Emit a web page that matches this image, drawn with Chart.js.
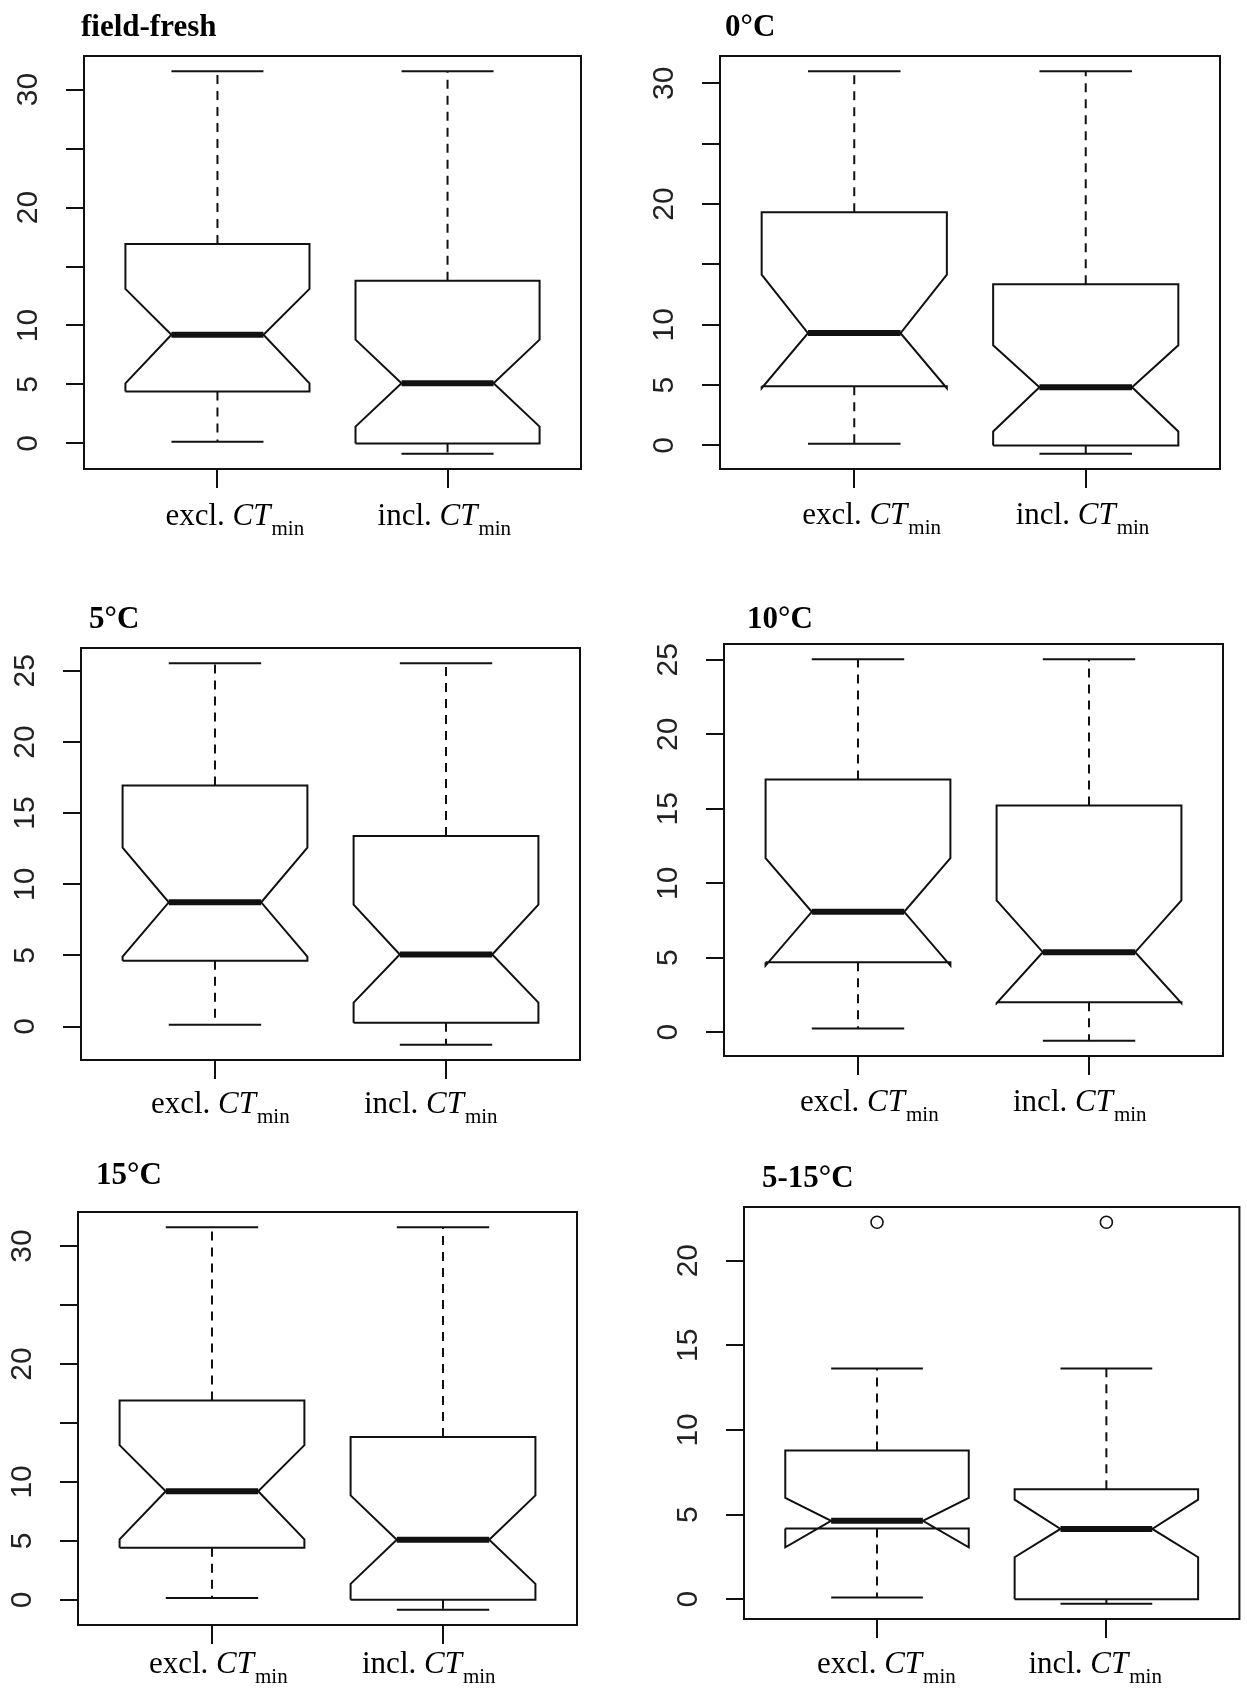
<!DOCTYPE html>
<html>
<head>
<meta charset="utf-8">
<script src="https://cdn.jsdelivr.net/npm/chart.js@4.4.1/dist/chart.umd.min.js"></script>
<style>
  html, body { margin: 0; padding: 0; background: #fff; overflow: hidden; }
  #page { position: relative; width: 1247px; height: 1692px; }
  #page canvas { position: absolute; }
</style>
</head>
<body>
<div id="page"></div>
<script>
// panels, left to right then top to bottom
const panelTitles = ["field-fresh", "0°C", "5°C", "10°C", "15°C", "5-15°C"];
const groupLabels = ["excl.", "incl."];

// each entry: [excl. CTmin, incl. CTmin]
const whiskerLow  = [[0.15, -0.87], [0.15, -0.68], [0.12, -1.28], [0.24, -0.58], [0.15, -0.84], [0.10, -0.27]];
const lowerHinge  = [[4.40, 0.00], [4.90, 0.00], [4.63, 0.27], [4.69, 2.00], [4.41, 0.00], [4.17, 0.00]];
const notchLow    = [[5.10, 1.43], [4.75, 1.16], [4.91, 1.68], [4.47, 1.95], [5.13, 1.35], [3.06, 2.48]];
const medians     = [[9.22, 5.10], [9.31, 4.82], [8.73, 5.06], [8.08, 5.37], [9.21, 5.10], [4.63, 4.15]];
const notchHigh   = [[13.10, 8.80], [14.16, 8.30], [12.58, 8.56], [11.69, 8.85], [13.11, 8.85], [5.98, 5.88]];
const upperHinge  = [[16.90, 13.80], [19.33, 13.35], [16.94, 13.39], [16.96, 15.22], [16.90, 13.80], [8.79, 6.50]];
const whiskerHigh = [[31.55, 31.55], [31.00, 31.00], [25.53, 25.53], [25.04, 25.04], [31.59, 31.59], [13.63, 13.63]];
const outliers    = [[[], []], [[], []], [[], []], [[], []], [[], []], [[22.27], [22.27]]];

const yTicks = [
  [0, 5, 10, 15, 20, 25, 30], [0, 5, 10, 15, 20, 25, 30], [0, 5, 10, 15, 20, 25],
  [0, 5, 10, 15, 20, 25], [0, 5, 10, 15, 20, 25, 30], [0, 5, 10, 15, 20]
];
const yTickLabels = [
  [0, 5, 10, 20, 30], [0, 5, 10, 20, 30], [0, 5, 10, 15, 20, 25],
  [0, 5, 10, 15, 20, 25], [0, 5, 10, 20, 30], [0, 5, 10, 15, 20]
];

// layout (page pixels): plot box [left, top, right, bottom]
const plotRects = [
  [84, 56, 581, 469], [720, 56, 1220, 469],
  [81, 648, 580, 1060], [724, 644, 1223, 1056],
  [78, 1212, 577, 1625], [744, 1207, 1245, 1619]
];
const titleOffsets = [[-3, -20], [5, -20], [8, -20], [23, -16], [18, -28], [18, -20]];
const labelBaseline = [56, 55, 53, 55, 48, 54];
const labelShift = [0, 0, -12, -6, -11, -8];
const labelStart = [-52, -70];

const INK = "#111";
const HALF = 0.4; // box half width in x units

const yRange = (p) => {
  const vals = [...whiskerLow[p], ...whiskerHigh[p], ...outliers[p].flat()];
  const lo = Math.min(...vals), hi = Math.max(...vals);
  const pad = (hi - lo) * 0.04;
  return [lo - pad, hi + pad];
};

const seg = (pts, width, dash) => ({
  data: pts.map(([x, y]) => ({ x, y })),
  showLine: true,
  borderColor: INK,
  borderWidth: width,
  borderDash: dash || [],
  pointRadius: 0,
  fill: false,
  tension: 0,
});

const makeDatasets = (p) => {
  const sets = [];
  for (let g = 0; g < 2; g++) {
    const x = g + 1, w = HALF, n = HALF / 2;
    const q1 = lowerHinge[p][g], q3 = upperHinge[p][g], md = medians[p][g];
    const cl = notchLow[p][g], ch = notchHigh[p][g];
    sets.push(seg([
      [x - w, q1], [x + w, q1], [x + w, cl], [x + n, md], [x + w, ch], [x + w, q3],
      [x - w, q3], [x - w, ch], [x - n, md], [x - w, cl], [x - w, q1]
    ], 2));
    sets.push(seg([[x, q3], [x, whiskerHigh[p][g]]], 2, [9, 7]));
    sets.push(seg([[x, q1], [x, whiskerLow[p][g]]], 2, [9, 7]));
    sets.push(seg([[x - n, whiskerHigh[p][g]], [x + n, whiskerHigh[p][g]]], 2));
    sets.push(seg([[x - n, whiskerLow[p][g]], [x + n, whiskerLow[p][g]]], 2));
    sets.push(seg([[x - n, md], [x + n, md]], 6));
    if (outliers[p][g].length) {
      sets.push({
        data: outliers[p][g].map((v) => ({ x, y: v })),
        showLine: false,
        pointStyle: "circle",
        pointRadius: 6,
        borderColor: INK,
        borderWidth: 1.6,
        backgroundColor: "rgba(0,0,0,0)",
      });
    }
  }
  return sets;
};

const decor = {
  id: "decor",
  afterDraw(chart, args, opts) {
    const { ctx, chartArea: a, scales } = chart;
    const p = opts.panel;
    ctx.save();
    ctx.strokeStyle = INK;
    ctx.lineWidth = 2;
    ctx.strokeRect(a.left, a.top, a.right - a.left, a.bottom - a.top);

    // rotated y tick labels
    ctx.fillStyle = "#222";
    ctx.font = '30px "Liberation Sans", Arial, sans-serif';
    ctx.textAlign = "center";
    ctx.textBaseline = "alphabetic";
    yTickLabels[p].forEach((v) => {
      ctx.save();
      ctx.translate(a.left - 47, scales.y.getPixelForValue(v));
      ctx.rotate(-Math.PI / 2);
      ctx.fillText(String(v), 0, 0);
      ctx.restore();
    });

    // category labels: excl./incl. CT_min
    ctx.fillStyle = "#000";
    ctx.textAlign = "left";
    const base = a.bottom + labelBaseline[p];
    groupLabels.forEach((lab, g) => {
      let xx = scales.x.getPixelForValue(g + 1) + labelStart[g] + labelShift[p];
      ctx.font = '31px "Liberation Serif", "Times New Roman", serif';
      ctx.fillText(lab + " ", xx, base);
      xx += ctx.measureText(lab + " ").width;
      ctx.font = 'italic 31px "Liberation Serif", "Times New Roman", serif';
      ctx.fillText("CT", xx, base);
      xx += ctx.measureText("CT").width;
      ctx.font = '21px "Liberation Serif", "Times New Roman", serif';
      ctx.fillText("min", xx + 1, base + 10);
    });

    // panel title
    ctx.font = 'bold 31px "Liberation Serif", "Times New Roman", serif';
    ctx.fillText(panelTitles[p], a.left + titleOffsets[p][0], a.top + titleOffsets[p][1]);
    ctx.restore();
  },
};

const page = document.getElementById("page");
const PAD_L = 84, PAD_T = 60, PAD_R = 2, PAD_B = 75;

panelTitles.forEach((_, p) => {
  const [L, T, R, B] = plotRects[p];
  const cv = document.createElement("canvas");
  cv.width = R - L + PAD_L + PAD_R;
  cv.height = B - T + PAD_T + PAD_B;
  cv.style.left = L - PAD_L + "px";
  cv.style.top = T - PAD_T + "px";
  cv.style.width = cv.width + "px";
  cv.style.height = cv.height + "px";
  page.appendChild(cv);

  const [ymin, ymax] = yRange(p);
  new Chart(cv.getContext("2d"), {
    type: "scatter",
    data: { datasets: makeDatasets(p) },
    options: {
      responsive: false,
      animation: false,
      events: [],
      devicePixelRatio: 1,
      layout: { padding: { left: 0, top: PAD_T, right: PAD_R, bottom: 0 } },
      plugins: { legend: { display: false }, tooltip: { enabled: false }, decor: { panel: p } },
      scales: {
        x: {
          type: "linear",
          min: 0.42,
          max: 2.58,
          bounds: "data",
          afterBuildTicks: (s) => { s.ticks = [{ value: 1 }, { value: 2 }]; },
          afterFit: (s) => { s.height = PAD_B; },
          ticks: { display: false },
          grid: { drawOnChartArea: false, drawTicks: true, tickLength: 19, lineWidth: 2, color: INK },
          border: { display: true, width: 2, color: INK },
        },
        y: {
          type: "linear",
          min: ymin,
          max: ymax,
          bounds: "data",
          afterBuildTicks: (s) => { s.ticks = yTicks[p].map((v) => ({ value: v })); },
          afterFit: (s) => { s.width = PAD_L; },
          ticks: { display: false },
          grid: { drawOnChartArea: false, drawTicks: true, tickLength: 18, lineWidth: 2, color: INK },
          border: { display: true, width: 2, color: INK },
        },
      },
    },
    plugins: [decor],
  });
});
</script>
</body>
</html>
